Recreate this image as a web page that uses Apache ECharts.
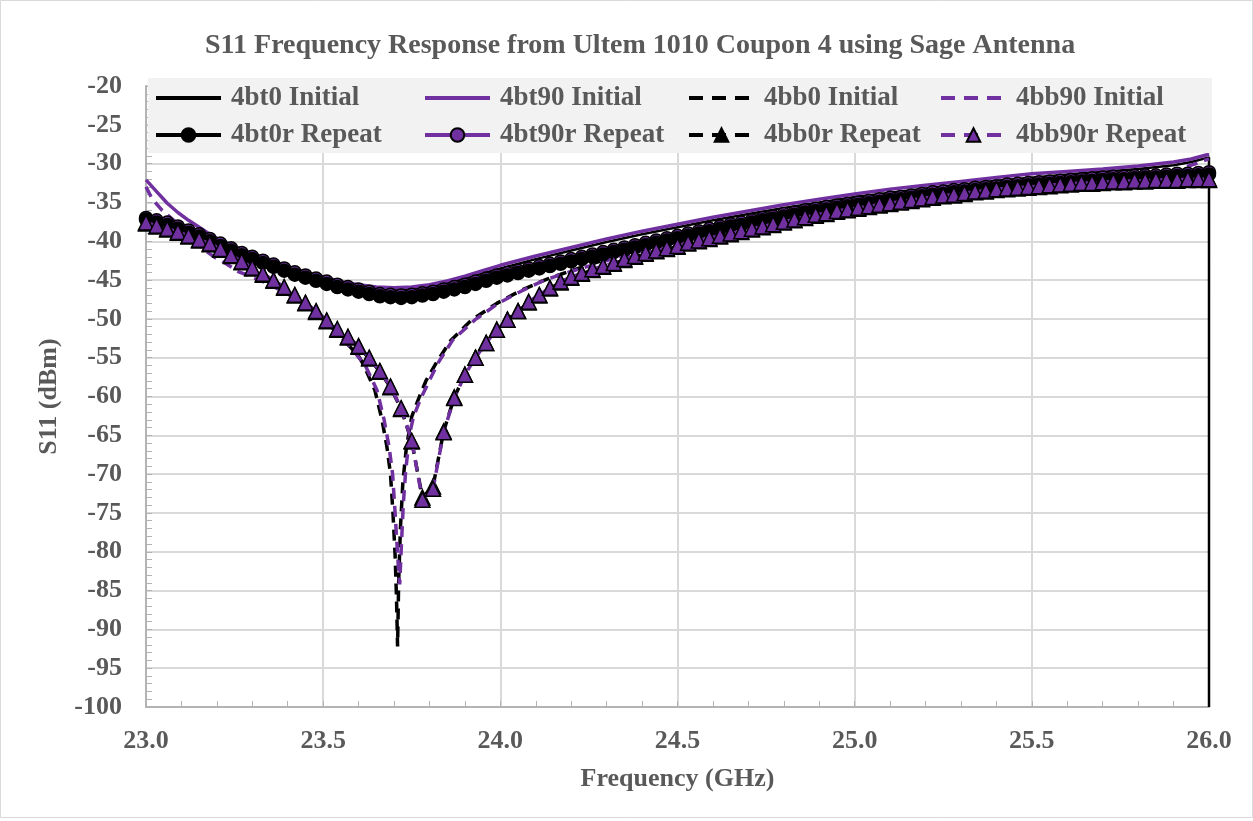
<!DOCTYPE html>
<html>
<head>
<meta charset="utf-8">
<script src="https://cdn.jsdelivr.net/npm/echarts@6/dist/echarts.min.js"></script>
<style>
html,body{margin:0;padding:0;background:#fff;}
#chart{width:1253px;height:821px;}
</style>
</head>
<body>
<div id="chart"></div>
<script>
// ---- Repeat sweep frequencies (GHz), 0.03 GHz step ----
var repeatFreq = [];
for (var i = 0; i <= 100; i++) { repeatFreq.push(+(23 + i * 0.03).toFixed(2)); }

// ---- 4bt90r Repeat (purple circles) ----
var bt90rValues = [
 -37.0,-37.3,-37.6,-38.1,-38.6,-39.1,-39.7,-40.3,-40.9,-41.5,
 -42.0,-42.5,-43.0,-43.5,-44.0,-44.4,-44.8,-45.2,-45.6,-45.9,
 -46.2,-46.5,-46.8,-46.9,-47.0,-46.9,-46.7,-46.5,-46.2,-45.9,
 -45.6,-45.2,-44.8,-44.4,-44.1,-43.8,-43.5,-43.2,-42.9,-42.6,
 -42.3,-42.0,-41.7,-41.4,-41.1,-40.8,-40.5,-40.2,-39.9,-39.6,
 -39.3,-39.0,-38.7,-38.4,-38.1,-37.8,-37.6,-37.3,-37.0,-36.8,
 -36.5,-36.3,-36.0,-35.8,-35.6,-35.4,-35.2,-35.0,-34.8,-34.6,
 -34.4,-34.3,-34.1,-33.9,-33.7,-33.6,-33.4,-33.3,-33.1,-33.0,
 -32.9,-32.7,-32.6,-32.5,-32.4,-32.3,-32.2,-32.1,-32.0,-31.9,
 -31.8,-31.7,-31.7,-31.6,-31.5,-31.5,-31.4,-31.3,-31.3,-31.2,
 -31.1];

// ---- 4bt0r Repeat (black circles) ----
var bt0rValues = [
 -37.2,-37.6,-37.9,-38.4,-38.9,-39.4,-40.0,-40.6,-41.2,-41.8,
 -42.3,-42.8,-43.3,-43.8,-44.3,-44.7,-45.1,-45.5,-45.9,-46.2,
 -46.5,-46.8,-47.1,-47.2,-47.3,-47.2,-47.0,-46.8,-46.5,-46.2,
 -45.9,-45.5,-45.1,-44.7,-44.4,-44.1,-43.8,-43.5,-43.2,-42.9,
 -42.6,-42.3,-42.0,-41.7,-41.4,-41.1,-40.8,-40.5,-40.2,-39.9,
 -39.6,-39.3,-39.0,-38.7,-38.4,-38.1,-37.9,-37.6,-37.3,-37.1,
 -36.8,-36.6,-36.3,-36.1,-35.9,-35.7,-35.5,-35.3,-35.1,-34.9,
 -34.7,-34.6,-34.4,-34.2,-34.0,-33.9,-33.7,-33.6,-33.4,-33.3,
 -33.2,-33.0,-32.9,-32.8,-32.7,-32.6,-32.5,-32.4,-32.3,-32.2,
 -32.1,-32.0,-32.0,-31.9,-31.8,-31.8,-31.7,-31.6,-31.6,-31.5,
 -31.4];

// ---- 4bb90r Repeat (purple triangles) ----
var bb90rValues = [
 -37.6,-38.0,-38.4,-38.8,-39.3,-39.8,-40.3,-41.0,-41.8,-42.6,
 -43.4,-44.2,-45.0,-45.9,-46.9,-47.9,-49.0,-50.2,-51.3,-52.3,
 -53.5,-55.0,-56.7,-58.7,-61.5,-65.7,-73.3,-71.9,-64.6,-60.2,
 -57.2,-55.0,-53.1,-51.4,-50.1,-49.0,-47.8,-46.9,-46.0,-45.2,
 -44.6,-44.1,-43.6,-43.2,-42.8,-42.3,-41.9,-41.5,-41.2,-40.9,
 -40.6,-40.2,-39.9,-39.6,-39.3,-39.0,-38.7,-38.4,-38.1,-37.8,
 -37.5,-37.2,-36.9,-36.6,-36.4,-36.1,-35.9,-35.7,-35.5,-35.3,
 -35.1,-34.9,-34.7,-34.5,-34.3,-34.1,-34.0,-33.8,-33.6,-33.5,
 -33.3,-33.2,-33.1,-33.0,-32.9,-32.8,-32.7,-32.6,-32.5,-32.5,
 -32.4,-32.3,-32.3,-32.2,-32.2,-32.1,-32.1,-32.1,-32.0,-32.0,
 -32.0];

// ---- 4bb0r Repeat (black triangles) ----
var bb0rValues = [
 -37.7,-38.1,-38.5,-38.9,-39.4,-39.9,-40.4,-41.1,-41.9,-42.7,
 -43.5,-44.3,-45.1,-46.0,-47.0,-48.0,-49.1,-50.3,-51.4,-52.4,
 -53.6,-55.1,-56.8,-58.8,-61.6,-65.8,-73.0,-71.6,-64.5,-60.1,
 -57.2,-55.0,-53.1,-51.4,-50.1,-49.0,-47.9,-47.0,-46.1,-45.3,
 -44.7,-44.2,-43.7,-43.3,-42.9,-42.4,-42.0,-41.6,-41.3,-41.0,
 -40.7,-40.3,-40.0,-39.7,-39.4,-39.1,-38.8,-38.5,-38.2,-37.9,
 -37.6,-37.3,-37.0,-36.7,-36.5,-36.2,-36.0,-35.8,-35.6,-35.4,
 -35.2,-35.0,-34.8,-34.6,-34.4,-34.2,-34.1,-33.9,-33.7,-33.6,
 -33.4,-33.3,-33.2,-33.1,-33.0,-32.9,-32.8,-32.7,-32.6,-32.6,
 -32.5,-32.4,-32.4,-32.3,-32.3,-32.2,-32.2,-32.2,-32.1,-32.1,
 -32.1];

// ---- 4bt90 Initial (purple solid) ----
var bt90InitFreq = [23.00,23.03,23.06,23.09,23.12,23.15,23.18,23.21,23.25,23.30,23.35,23.40,23.45,23.50,23.55,23.60,23.65,23.70,23.75,23.80,23.85,23.90,23.95,24.00,24.10,24.20,24.30,24.40,24.50,24.60,24.70,24.80,24.90,25.00,25.10,25.20,25.30,25.40,25.50,25.60,25.70,25.80,25.90,25.95,26.00];
var bt90InitValues = [-32.1,-33.6,-35.1,-36.3,-37.3,-38.2,-39.1,-39.9,-40.7,-41.6,-42.5,-43.3,-44.0,-44.6,-45.2,-45.6,-45.9,-46.0,-45.9,-45.6,-45.1,-44.5,-43.8,-43.1,-41.9,-40.8,-39.7,-38.7,-37.8,-36.9,-36.1,-35.3,-34.6,-33.9,-33.3,-32.8,-32.3,-31.8,-31.3,-31.0,-30.7,-30.3,-29.8,-29.4,-28.8];

// ---- 4bt0 Initial (black solid) ----
var bt0InitFreq = [23.00,23.05,23.10,23.15,23.20,23.25,23.30,23.40,23.50,23.60,23.70,23.80,23.90,24.00,24.10,24.20,24.30,24.40,24.50,24.60,24.70,24.80,24.90,25.00,25.20,25.40,25.60,25.80,25.90,25.95,26.00,26.00];
var bt0InitValues = [-36.8,-37.4,-38.1,-38.9,-39.7,-40.6,-41.9,-43.6,-44.9,-45.9,-46.3,-45.9,-44.8,-43.5,-42.3,-41.2,-40.1,-39.1,-38.2,-37.3,-36.5,-35.7,-35.0,-34.3,-33.2,-32.2,-31.4,-30.7,-30.2,-29.8,-29.2,-100];

// ---- 4bb0 Initial (black dashed) ----
var bb0InitFreq = [23.00,23.05,23.10,23.15,23.20,23.25,23.30,23.35,23.40,23.45,23.50,23.55,23.60,23.615,23.646,23.666,23.68,23.69,23.697,23.703,23.707,23.71,23.713,23.718,23.725,23.735,23.75,23.77,23.79,23.82,23.86,23.92,23.99,24.06,24.13,24.20,24.30,24.40,24.50,24.60,24.70,24.80,24.90,25.00,25.20,25.40,25.60,25.80,25.90,26.00];
var bb0InitValues = [-37.9,-38.6,-39.5,-40.4,-41.4,-42.6,-43.9,-45.2,-46.6,-48.2,-50.0,-52.3,-54.8,-56.0,-59.2,-63.0,-66.5,-70.0,-75.0,-80.4,-86.0,-92.2,-84.0,-77.0,-71.0,-66.5,-62.6,-60.2,-58.0,-55.6,-52.8,-50.1,-48.0,-46.3,-44.9,-43.8,-42.3,-41.0,-39.9,-38.9,-37.9,-37.1,-36.3,-35.6,-34.4,-33.4,-32.7,-32.1,-31.9,-31.6];

// ---- 4bb90 Initial (purple dashed) ----
var bb90InitFreq = [23.00,23.017,23.045,23.073,23.10,23.13,23.158,23.195,23.223,23.26,23.30,23.34,23.38,23.42,23.46,23.50,23.54,23.58,23.62,23.652,23.672,23.686,23.696,23.703,23.709,23.713,23.716,23.72,23.726,23.733,23.745,23.755,23.775,23.796,23.824,23.866,23.929,23.994,24.06,24.13,24.20,24.30,24.40,24.50,24.60,24.70,24.80,24.90,25.00,25.20,25.40,25.60,25.75,25.85,25.90,25.95,26.00];
var bb90InitValues = [-33.0,-34.5,-36.0,-37.1,-38.2,-39.5,-40.9,-42.1,-42.8,-43.9,-44.6,-45.4,-46.3,-47.3,-48.6,-50.1,-51.8,-53.8,-56.1,-59.2,-63.0,-66.5,-70.0,-75.0,-79.5,-82.5,-84.2,-80.0,-74.0,-69.5,-64.6,-62.6,-60.3,-58.3,-55.7,-52.7,-50.1,-48.0,-46.4,-44.9,-43.9,-42.5,-41.2,-40.1,-39.1,-38.1,-37.2,-36.4,-35.7,-34.4,-33.3,-32.4,-31.9,-31.4,-30.9,-30.2,-29.4];

// ---- Axis ticks ----
var xTicks = {min: 23.0, max: 26.0, step: 0.5};
var yTicks = {min: -100, max: -20, step: 5};

var PURPLE = '#7030A0';
var BLACK = '#000000';
var FONT = '"Liberation Serif", "Times New Roman", serif';
var TXT = '#595959';
var DASH = [11, 7];

function pairs(xs, ys) { return xs.map(function (x, i) { return [x, ys[i]]; }); }

function initSeries(name, xs, ys, color, type, width) {
  return {
    name: name, type: 'line', data: pairs(xs, ys), showSymbol: false, symbol: 'circle',
    lineStyle: {color: color, width: width, type: type === 'dashed' ? DASH : 'solid'},
    itemStyle: {color: 'rgba(0,0,0,0)', borderColor: 'rgba(0,0,0,0)', borderWidth: 0},
    emphasis: {disabled: true},
    smooth: false, animation: false, z: 2
  };
}
function repSeries(name, ys, color, type, symbol, size, fill, z) {
  return {
    name: name, type: 'line', data: pairs(repeatFreq, ys), showAllSymbol: true,
    symbol: symbol, symbolSize: size,
    lineStyle: {color: color, width: 3.5, type: type === 'dashed' ? DASH : 'solid'},
    itemStyle: {color: fill, borderColor: '#000', borderWidth: 1.5},
    emphasis: {disabled: true},
    animation: false, z: z
  };
}

var legendText = {fontFamily: FONT, fontSize: 27, fontWeight: 'bold', color: TXT, lineHeight: 30, padding: [0, 0, 0, 5]};
function legendCol(left, names, dashed) {
  return {left: left, top: 83, orient: 'vertical', itemWidth: 65, itemHeight: 17, itemGap: 7,
    padding: 0, selectedMode: false, data: names, textStyle: legendText, z: 10,
    lineStyle: dashed ? {type: [14, 9], width: 4} : {width: 4}};
}

var chart = echarts.init(document.getElementById('chart'), null, {renderer: 'canvas'});
chart.setOption({
  backgroundColor: '#ffffff',
  animation: false,
  title: {
    text: 'S11 Frequency Response from Ultem 1010 Coupon 4 using Sage Antenna',
    left: 200, top: 27,
    textStyle: {fontFamily: FONT, fontSize: 28, fontWeight: 'bold', color: TXT}
  },
  graphic: [
    {type: 'rect', shape: {x: 148, y: 78, width: 1064, height: 75}, style: {fill: '#f2f2f2'}, z: 5, silent: true},
    {type: 'rect', shape: {x: 0.5, y: 0.5, width: 1252, height: 817}, style: {fill: 'none', stroke: '#d9d9d9', lineWidth: 1}, z: 0, silent: true}
  ],
  legend: [
    legendCol(154, ['4bt0 Initial', '4bt0r Repeat'], false),
    legendCol(423, ['4bt90 Initial', '4bt90r Repeat'], false),
    legendCol(687, ['4bb0 Initial', '4bb0r Repeat'], true),
    legendCol(939, ['4bb90 Initial', '4bb90r Repeat'], true)
  ],
  grid: {left: 146, right: 44, top: 86, bottom: 114, containLabel: false},
  xAxis: {
    type: 'value', min: xTicks.min, max: xTicks.max, interval: xTicks.step,
    name: 'Frequency (GHz)', nameLocation: 'middle', nameGap: 59,
    nameTextStyle: {fontFamily: FONT, fontSize: 26, fontWeight: 'bold', color: TXT},
    axisLine: {show: true, onZero: false, lineStyle: {color: '#b3b3b3', width: 2}},
    axisTick: {show: true, inside: true, length: 6, lineStyle: {color: '#b3b3b3', width: 1}},
    minorTick: {show: true, splitNumber: 5, length: 6, lineStyle: {color: '#b3b3b3', width: 1}},
    splitLine: {show: true, lineStyle: {color: '#d9d9d9', width: 2}},
    axisLabel: {fontFamily: FONT, fontSize: 26, fontWeight: 'bold', color: TXT, margin: 21,
      formatter: function (v) { return v.toFixed(1); }}
  },
  yAxis: {
    type: 'value', min: yTicks.min, max: yTicks.max, interval: yTicks.step,
    name: 'S11 (dBm)', nameLocation: 'middle', nameGap: 84, nameRotate: 90,
    nameTextStyle: {fontFamily: FONT, fontSize: 26, fontWeight: 'bold', color: TXT},
    axisLine: {show: true, onZero: false, lineStyle: {color: '#b3b3b3', width: 2}},
    axisTick: {show: true, inside: true, length: 6, lineStyle: {color: '#b3b3b3', width: 1}},
    minorTick: {show: true, splitNumber: 5, length: 6, lineStyle: {color: '#b3b3b3', width: 1}},
    splitLine: {show: true, lineStyle: {color: '#d9d9d9', width: 2}},
    axisLabel: {fontFamily: FONT, fontSize: 26, fontWeight: 'bold', color: TXT, margin: 24}
  },
  series: [
    initSeries('4bt0 Initial', bt0InitFreq, bt0InitValues, BLACK, 'solid', 2.5),
    initSeries('4bt90 Initial', bt90InitFreq, bt90InitValues, PURPLE, 'solid', 3.5),
    initSeries('4bb0 Initial', bb0InitFreq, bb0InitValues, BLACK, 'dashed', 3.5),
    initSeries('4bb90 Initial', bb90InitFreq, bb90InitValues, PURPLE, 'dashed', 3.5),
    repSeries('4bt90r Repeat', bt90rValues, PURPLE, 'solid', 'circle', 13, PURPLE, 3),
    repSeries('4bt0r Repeat', bt0rValues, BLACK, 'solid', 'circle', 13, BLACK, 4),
    repSeries('4bb0r Repeat', bb0rValues, BLACK, 'dashed', 'triangle', 15, BLACK, 5),
    repSeries('4bb90r Repeat', bb90rValues, PURPLE, 'dashed', 'triangle', 15, PURPLE, 6)
  ]
});
</script>
</body>
</html>
